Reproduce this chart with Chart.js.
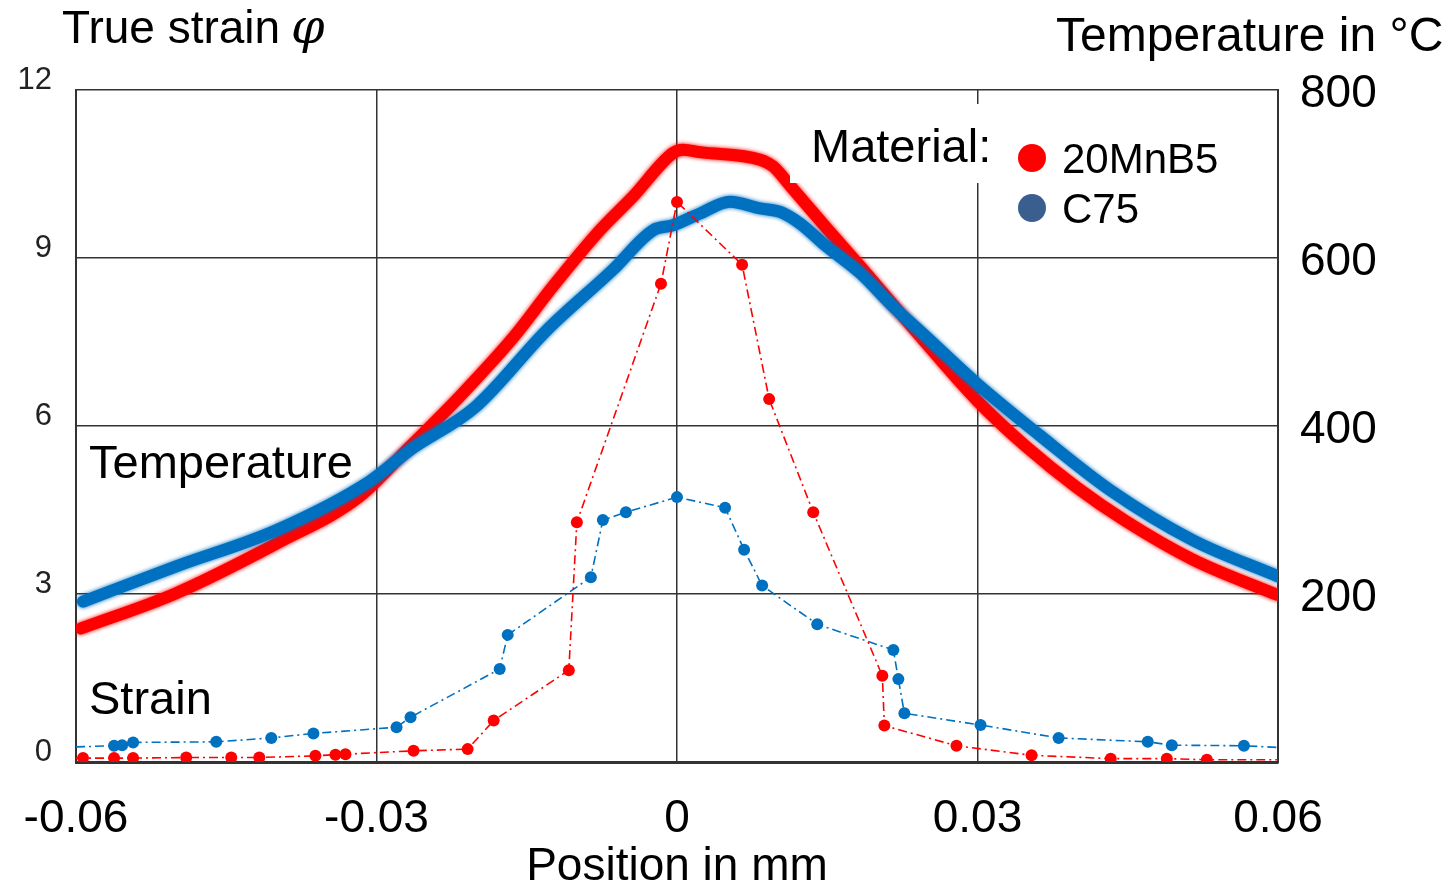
<!DOCTYPE html>
<html>
<head>
<meta charset="utf-8">
<script src="https://cdn.jsdelivr.net/npm/chart.js@4/dist/chart.umd.min.js"></script>
<style>
    html, body { margin: 0; padding: 0; background: #fff; }
    #wrap { width: 1448px; height: 888px; }
</style>
</head>
<body>
<div id="wrap"><canvas id="strain-chart" width="1448" height="888"></canvas></div>
<script>
// Position in mm (x) and values
const xTicks = [-0.06, -0.03, 0, 0.03, 0.06];
const strainTicks = [0, 3, 6, 9, 12];
const tempTicks = [200, 400, 600, 800];

const materials = ['20MnB5', 'C75'];

// True strain, 20MnB5
const strainPos20MnB5 = [-0.06, -0.0593, -0.0562, -0.0543, -0.0490, -0.0445, -0.0417, -0.0361, -0.0341, -0.0331, -0.0263, -0.0209, -0.0183, -0.0108, -0.0100, -0.0016, 0.0, 0.0065, 0.0092, 0.0136, 0.0205, 0.0207, 0.0279, 0.0354, 0.0433, 0.0489, 0.0529, 0.06];
const strain20MnB5    = [0.07, 0.07, 0.07, 0.07, 0.08, 0.08, 0.08, 0.11, 0.13, 0.14, 0.20, 0.23, 0.74, 1.64, 4.28, 8.54, 10.0, 8.88, 6.48, 4.46, 1.54, 0.65, 0.29, 0.12, 0.06, 0.06, 0.04, 0.04];

// True strain, C75
const strainPosC75 = [-0.06, -0.0562, -0.0554, -0.0543, -0.0460, -0.0405, -0.0363, -0.0280, -0.0266, -0.0177, -0.0169, -0.0086, -0.0074, -0.0051, 0.0, 0.0048, 0.0067, 0.0085, 0.0140, 0.0216, 0.0221, 0.0227, 0.0303, 0.0381, 0.0470, 0.0494, 0.0566, 0.06];
const strainC75    = [0.27, 0.29, 0.30, 0.35, 0.36, 0.43, 0.51, 0.62, 0.80, 1.66, 2.27, 3.30, 4.32, 4.46, 4.73, 4.54, 3.79, 3.15, 2.46, 2.00, 1.48, 0.87, 0.66, 0.43, 0.36, 0.30, 0.29, 0.26];

// Temperature in °C, 20MnB5
const tempPos20MnB5 = [-0.0595, -0.0500, -0.0400, -0.0317, -0.0267, -0.0217, -0.0163, -0.0124, -0.0077, -0.0044, -0.0004, 0.0006, 0.0023, 0.0083, 0.0096, 0.0113, 0.0149, 0.0183, 0.0216, 0.0249, 0.0299, 0.0349, 0.0399, 0.0449, 0.0515, 0.0599];
const temp20MnB5    = [159, 201, 260, 316, 375, 435, 506, 566, 633, 673, 725, 729, 726, 717, 709, 686, 636, 590, 544, 498, 431, 375, 327, 286, 241, 199];

// Temperature in °C, C75
const tempPosC75 = [-0.0593, -0.0500, -0.0400, -0.0307, -0.0267, -0.0201, -0.0130, -0.0064, -0.0024, -0.0004, 0.0023, 0.0053, 0.0083, 0.0103, 0.0123, 0.0149, 0.0183, 0.0216, 0.0249, 0.0299, 0.0362, 0.0432, 0.0515, 0.0600];
const tempC75    = [191, 233, 276, 334, 371, 423, 514, 586, 633, 639, 653, 667, 659, 655, 641, 614, 582, 542, 506, 451, 389, 324, 264, 221];

const RED = '#ff0000';
const BLUE = '#0070c0';
const LEGEND_BLUE = '#3a5f8f';
const FONT = "'Liberation Sans', Arial, sans-serif";

const pts = (xs, ys) => xs.map((x, i) => ({ x, y: ys[i] }));
// no marker where the line just runs out to the plot edge
const markerRadius = ctx => (ctx.raw && Math.abs(ctx.raw.x) >= 0.06 ? 0 : 6);

Chart.defaults.font.family = FONT;

// soft edges on the thick temperature bands
const softBands = {
    id: 'softBands',
    beforeDatasetDraw(chart, args) {
        const ds = chart.data.datasets[args.index];
        if (ds.yAxisID !== 'y2') return;
        chart.ctx.save();
        chart.ctx.shadowColor = ds.borderColor;
        chart.ctx.shadowBlur = 4;
    },
    afterDatasetDraw(chart, args) {
        const ds = chart.data.datasets[args.index];
        if (ds.yAxisID !== 'y2') return;
        chart.ctx.restore();
    }
};

const overlay = {
    id: 'overlay',
    afterDatasetsDraw(chart) {
        const ctx = chart.ctx;
        ctx.save();
        // white backdrop of the legend hides grid + curve behind it
        ctx.fillStyle = '#fff';
        ctx.fillRect(790, 104, 486, 79);

        ctx.fillStyle = '#000';
        ctx.textBaseline = 'alphabetic';
        ctx.textAlign = 'left';
        ctx.font = '47px ' + FONT;
        ctx.fillText('Material:', 811, 162);
        ctx.fillText('Temperature', 89, 478);
        ctx.fillText('Strain', 89, 714);

        ctx.font = '42px ' + FONT;
        const legendColors = [RED, LEGEND_BLUE];
        materials.forEach((m, i) => {
            const cy = 158 + i * 50;
            ctx.fillStyle = legendColors[i];
            ctx.beginPath();
            ctx.arc(1032, cy, 14, 0, Math.PI * 2);
            ctx.fill();
            ctx.fillStyle = '#000';
            ctx.fillText(m, 1062, cy + 15);
        });
        ctx.restore();
    },
    afterDraw(chart) {
        const ctx = chart.ctx;
        ctx.save();
        ctx.fillStyle = '#000';
        ctx.textBaseline = 'alphabetic';
        ctx.textAlign = 'left';
        ctx.font = '46px ' + FONT;
        ctx.fillText('True strain ', 62, 43);
        const w = ctx.measureText('True strain ').width;
        ctx.font = "italic 48px 'DejaVu Serif', 'Liberation Serif', serif";
        ctx.fillText('φ', 60 + w, 43);
        ctx.font = '48px ' + FONT;
        ctx.fillText('Temperature in °C', 1056, 51);
        ctx.restore();
    }
};

new Chart(document.getElementById('strain-chart'), {
    type: 'line',
    data: {
        datasets: [
            {
                label: materials[0] + ' strain',
                data: pts(strainPos20MnB5, strain20MnB5),
                yAxisID: 'y',
                borderColor: RED,
                backgroundColor: RED,
                borderWidth: 1.6,
                borderDash: [9, 4, 2, 4],
                pointRadius: markerRadius,
                pointBorderWidth: 0,
                tension: 0,
                order: 0
            },
            {
                label: materials[1] + ' strain',
                data: pts(strainPosC75, strainC75),
                yAxisID: 'y',
                borderColor: BLUE,
                backgroundColor: BLUE,
                borderWidth: 1.6,
                borderDash: [9, 4, 2, 4],
                pointRadius: markerRadius,
                pointBorderWidth: 0,
                tension: 0,
                order: 0
            },
            {
                label: materials[1] + ' temperature',
                data: pts(tempPosC75, tempC75),
                yAxisID: 'y2',
                borderColor: BLUE,
                borderWidth: 12,
                pointRadius: 0,
                cubicInterpolationMode: 'monotone',
                borderCapStyle: 'round',
                borderJoinStyle: 'round',
                order: 1
            },
            {
                label: materials[0] + ' temperature',
                data: pts(tempPos20MnB5, temp20MnB5),
                yAxisID: 'y2',
                borderColor: RED,
                borderWidth: 12,
                pointRadius: 0,
                cubicInterpolationMode: 'monotone',
                borderCapStyle: 'round',
                borderJoinStyle: 'round',
                order: 2
            }
        ]
    },
    options: {
        responsive: false,
        animation: false,
        layout: { padding: { top: 90, left: 0, right: 0, bottom: 0 } },
        plugins: {
            legend: { display: false },
            tooltip: { enabled: false }
        },
        scales: {
            x: {
                type: 'linear',
                min: -0.06, max: 0.06,
                afterBuildTicks: s => { s.ticks = xTicks.map(v => ({ value: v })); },
                afterFit: s => { s.height = 126; s.paddingLeft = 0; s.paddingRight = 0; },
                grid: { color: '#333', lineWidth: 1.5, drawTicks: false },
                border: { color: '#333', width: 3 },
                ticks: {
                    color: '#000',
                    font: { size: 46 },
                    padding: 30,
                    maxRotation: 0,
                    callback: v => (v === 0 ? '0' : v.toFixed(2))
                },
                title: {
                    display: true,
                    text: 'Position in mm',
                    color: '#000',
                    font: { size: 46, lineHeight: 1 },
                    padding: { top: 0, bottom: -2 }
                }
            },
            y: {
                position: 'left',
                min: 0, max: 12,
                afterBuildTicks: s => { s.ticks = strainTicks.map(v => ({ value: v })); },
                afterFit: s => { s.width = 76; s.paddingTop = 0; s.paddingBottom = 0; },
                grid: { color: '#333', lineWidth: 1.5, drawTicks: false },
                border: { color: '#333', width: 2 },
                ticks: {
                    color: '#222',
                    font: { size: 31 },
                    padding: 24,
                    labelOffset: -10
                }
            },
            y2: {
                position: 'right',
                min: 0, max: 800,
                afterBuildTicks: s => { s.ticks = tempTicks.map(v => ({ value: v })); },
                afterFit: s => { s.width = 170; s.paddingTop = 0; s.paddingBottom = 0; },
                grid: { drawOnChartArea: false, drawTicks: false },
                border: { color: '#333', width: 2 },
                ticks: {
                    color: '#000',
                    font: { size: 46 },
                    padding: 22,
                    labelOffset: 4
                }
            }
        }
    },
    plugins: [softBands, overlay]
});
</script>
</body>
</html>
